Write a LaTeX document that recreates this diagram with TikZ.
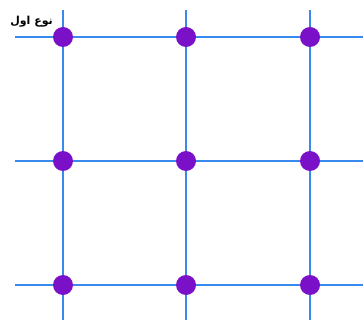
\documentclass[tikz,border=0pt]{standalone}
\usepackage{fontspec}
\newfontfamily\arabicbold[Script=Arabic]{DejaVu Sans Bold}
\TeXXeTstate=1
\definecolor{gridblue}{HTML}{3A8AEE}
\definecolor{dotpurple}{HTML}{7A10C8}
\begin{document}
\begin{tikzpicture}[x=1pt,y=-1pt,
  gridline/.style={draw=gridblue,line width=1.3pt},
  dot/.style={circle,fill=dotpurple,minimum size=20pt,inner sep=0pt},
  lbl/.style={anchor=east,inner sep=0pt,font=\arabicbold\fontsize{11}{13}\selectfont}]
\useasboundingbox (0,0) rectangle (363,320);
% grid lines
\foreach \y/\n in {37/a,161/b,285/c}{
  \coordinate (h\n1) at (15,\y);
  \coordinate (h\n2) at (363,\y);
  \draw[gridline] (h\n1) -- (h\n2);
}
\foreach \x/\n in {63/a,186/b,310/c}{
  \coordinate (v\n1) at (\x,10);
  \coordinate (v\n2) at (\x,320);
  \draw[gridline] (v\n1) -- (v\n2);
}
% dots
\foreach \x/\i in {63/1,186/2,310/3}{
  \foreach \y/\j in {37/1,161/2,285/3}{
    \node[dot] (d\i\j) at (\x,\y) {};
  }
}
\node[lbl] (title) at (53,22) {\beginR نوع اول\endR};
\end{tikzpicture}
\end{document}
